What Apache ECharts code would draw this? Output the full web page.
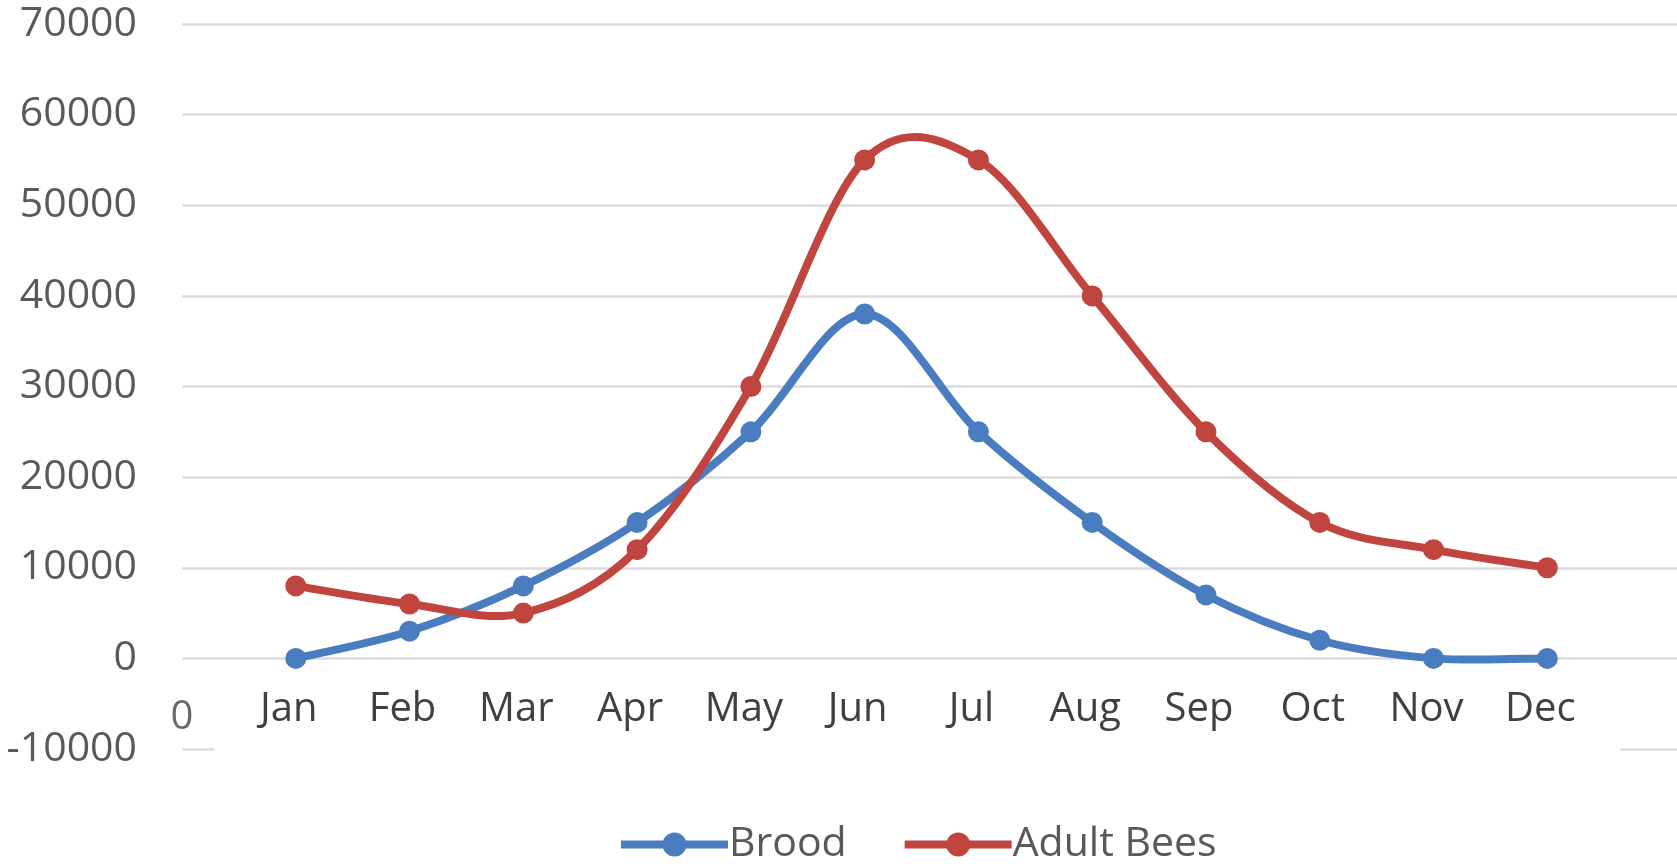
<!DOCTYPE html>
<html>
<head>
<meta charset="utf-8">
<script src="https://cdn.jsdelivr.net/npm/echarts@6/dist/echarts.min.js"></script>
<style>
html,body{margin:0;padding:0;background:#fff;}
#chart{width:1677px;height:864px;}
</style>
</head>
<body>
<div id="chart"></div>
<script>
const categories = ['0','Jan','Feb','Mar','Apr','May','Jun','Jul','Aug','Sep','Oct','Nov','Dec'];
const seriesNames = ['Brood','Adult Bees'];
const brood = [0, 3000, 8000, 15000, 25000, 38000, 25000, 15000, 7000, 2000, 0, 0];
const adultBees = [8000, 6000, 5000, 12000, 30000, 55000, 55000, 40000, 25000, 15000, 12000, 10000];
const yTicks = [-10000, 0, 10000, 20000, 30000, 40000, 50000, 60000, 70000];

const BLUE = '#4A7CC0', RED = '#C0453F', LW = 8;
const GRID_TOP = 24, GRID_BOTTOM = 115, H = 864;

function toPoints(vals){ return vals.map((v,i)=>[i+1, v]); }

// Excel-like (Catmull-Rom) smoothed curve through the data, using the axis scales
function curveRenderer(vals, color){
  return function(params, api){
    if (params.dataIndex !== 0) return null;
    const p = vals.map((v,i)=>api.coord([i+1, v]));
    const n = p.length, children = [];
    for (let i=0;i<n-1;i++){
      const a = p[i-1] || p[i], b = p[i], c = p[i+1], d = p[i+2] || p[i+1];
      children.push({
        type:'bezierCurve',
        shape:{x1:b[0], y1:b[1], x2:c[0], y2:c[1],
               cpx1:b[0]+(c[0]-a[0])/6, cpy1:b[1]+(c[1]-a[1])/6,
               cpx2:c[0]-(d[0]-b[0])/6, cpy2:c[1]-(d[1]-b[1])/6},
        style:{stroke:color, lineWidth:LW, fill:null, lineCap:'round', lineJoin:'round'}
      });
    }
    return {type:'group', children:children};
  };
}

// place the category axis on the y = 0 line
const yMin = yTicks[0], yMax = yTicks[yTicks.length-1];
const gridH = H - GRID_TOP - GRID_BOTTOM;
const zeroOffset = -gridH * (0 - yMin) / (yMax - yMin);

const chart = echarts.init(document.getElementById('chart'));
chart.setOption({
  animation:false,
  backgroundColor:'#ffffff',
  grid:{left:182, right:0, top:GRID_TOP, bottom:GRID_BOTTOM},
  xAxis:{
    type:'value', min:0, max:13.14, interval:1, offset:zeroOffset,
    axisLine:{show:false, onZero:false},
    axisTick:{show:false}, splitLine:{show:false},
    axisLabel:{
      color:'#404040', fontSize:40, fontFamily:'Open Sans', margin:31,
      padding:[0,14,0,0],
      showMaxLabel:false,
      formatter:function(v){
        if (!Number.isInteger(v) || categories[v]===undefined) return '';
        return v === 0 ? '{z|' + categories[v] + '}' : categories[v];
      },
      rich:{z:{color:'#6a6a6a', fontSize:40, fontFamily:'Open Sans', padding:[8,0,0,14]}}
    }
  },
  yAxis:{
    type:'value', min:yMin, max:yMax, interval:10000,
    axisLine:{show:false}, axisTick:{show:false},
    splitLine:{lineStyle:{color:'#dcdcdc', width:2.5}},
    axisLabel:{color:'#595959', fontSize:41, fontFamily:'Open Sans', margin:45,
      formatter:function(v){ return String(v); }}
  },
  legend:{
    left:612, top:819, itemWidth:107, itemHeight:30, itemGap:54,
    textStyle:{color:'#595959', fontSize:41, fontFamily:'Open Sans', padding:[0,0,0,-4]},
    data:[
      {name:seriesNames[0], lineStyle:{width:LW, color:BLUE, opacity:1}},
      {name:seriesNames[1], lineStyle:{width:LW, color:RED, opacity:1}}
    ]
  },
  graphic:[{type:'rect', shape:{x:214, y:738, width:1406, height:22}, style:{fill:'#ffffff'}, z:10}],
  series:[
    {name:'Brood curve', type:'custom', data:toPoints(brood), renderItem:curveRenderer(brood, BLUE), z:2},
    {name:seriesNames[0], type:'line', data:toPoints(brood),
     symbol:'circle', symbolSize:21, color:BLUE,
     lineStyle:{width:0, color:BLUE}, itemStyle:{color:BLUE}, z:2},
    {name:'Adult curve', type:'custom', data:toPoints(adultBees), renderItem:curveRenderer(adultBees, RED), z:2},
    {name:seriesNames[1], type:'line', data:toPoints(adultBees),
     symbol:'circle', symbolSize:21, color:RED,
     lineStyle:{width:0, color:RED}, itemStyle:{color:RED}, z:2}
  ]
});
</script>
</body>
</html>
